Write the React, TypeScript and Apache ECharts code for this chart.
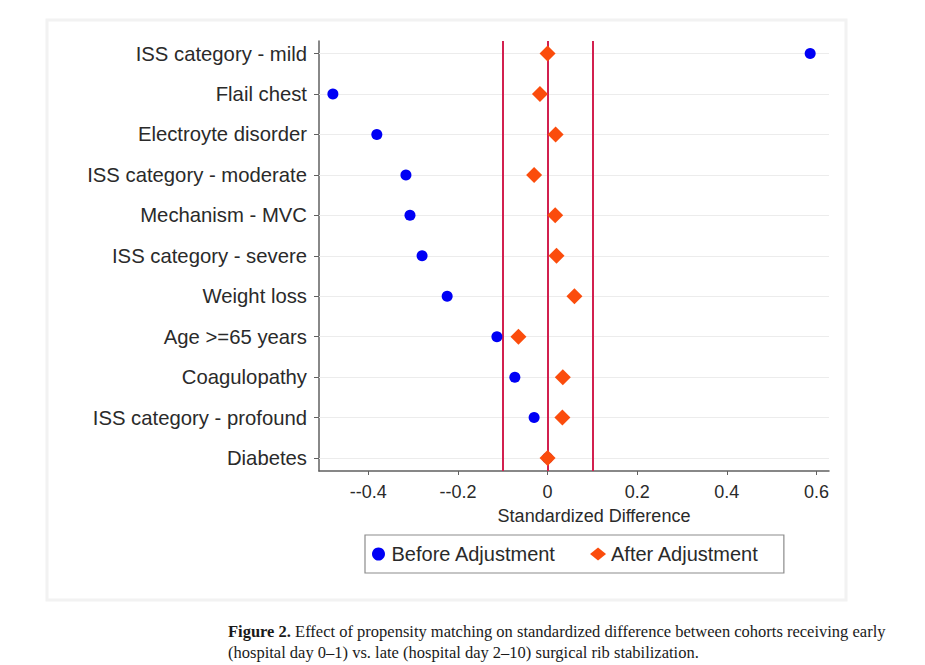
import React, { useEffect, useRef } from "react";
import * as echarts from "echarts";

const categories = [
  "ISS category - mild",
  "Flail chest",
  "Electroyte disorder",
  "ISS category - moderate",
  "Mechanism - MVC",
  "ISS category - severe",
  "Weight loss",
  "Age >=65 years",
  "Coagulopathy",
  "ISS category - profound",
  "Diabetes",
];
const beforeAdjustment = [0.586, -0.479, -0.381, -0.316, -0.307, -0.28, -0.224, -0.113, -0.073, -0.03, 0.0];
const afterAdjustment = [0.0, -0.017, 0.018, -0.03, 0.017, 0.02, 0.06, -0.065, 0.034, 0.033, 0.0];
const thresholds = [-0.1, 0, 0.1];
const xTicks = [-0.4, -0.2, 0, 0.2, 0.4, 0.6];
const xTickLabels = ["--0.4", "--0.2", "0", "0.2", "0.4", "0.6"];
const seriesNames = ["Before Adjustment", "After Adjustment"];
const captionBold = "Figure 2.";
const captionLine1 = " Effect of propensity matching on standardized difference between cohorts receiving early";
const captionLine2 = "(hospital day 0\u20131) vs. late (hospital day 2\u201310) surgical rib stabilization.";

const FONT = "'Liberation Sans', Arial, sans-serif";
const SERIF = "'Liberation Serif', 'DejaVu Serif', serif";

export default function App() {
  const ref = useRef<HTMLDivElement>(null);
  useEffect(() => {
    if (!ref.current) return;
    const chart = echarts.init(ref.current, null, { renderer: "svg" });
    const idx = categories.map((_, i) => i);
    chart.setOption({
      animation: false,
      backgroundColor: "#ffffff",
      textStyle: { fontFamily: FONT },
      grid: { left: 319, right: 96, top: 41, bottom: 194, containLabel: false },
      xAxis: {
        type: "value",
        min: -0.51,
        max: 0.628,
        name: "Standardized Difference",
        nameLocation: "middle",
        nameGap: 36,
        nameTextStyle: { fontSize: 18, color: "#2a2a2a", fontFamily: FONT, padding: [0, 0, 0, 40] },
        axisLine: { show: true, onZero: false, lineStyle: { color: "#606060", width: 1.5 } },
        axisTick: { show: true, inside: false, length: 4, customValues: xTicks, lineStyle: { color: "#606060" } },
        axisLabel: {
          customValues: xTicks,
          margin: 12,
          fontSize: 18,
          color: "#2a2a2a",
          fontFamily: FONT,
          formatter: (v: number) => {
            const i = xTicks.findIndex((t) => Math.abs(t - v) < 1e-9);
            return i >= 0 ? xTickLabels[i] : "";
          },
        },
        splitLine: { show: false },
      },
      yAxis: {
        type: "value",
        inverse: true,
        min: -0.31,
        max: 10.32,
        axisLine: { show: true, onZero: false, lineStyle: { color: "#606060", width: 1.5 } },
        axisTick: { show: true, inside: false, length: 5, customValues: idx, lineStyle: { color: "#606060" } },
        axisLabel: {
          customValues: idx,
          margin: 12,
          fontSize: 20.3,
          color: "#2a2a2a",
          fontFamily: FONT,
          formatter: (v: number) => categories[Math.round(v)] ?? "",
        },
        splitLine: { show: false },
      },
      legend: {
        data: seriesNames.map((n, i) => ({ name: n, icon: i === 0 ? "circle" : "diamond" })),
        left: 365,
        top: 535,
        orient: "horizontal",
        itemWidth: 16,
        itemHeight: 13,
        itemGap: 34,
        padding: [9, 25, 9, 7],
        borderColor: "#8c8c8c",
        borderWidth: 1.2,
        textStyle: { fontSize: 20, color: "#2a2a2a", fontFamily: FONT },
      },
      series: [
        {
          name: "grid",
          type: "scatter",
          data: [],
          z: 1,
          silent: true,
          markLine: {
            silent: true,
            z: 1,
            symbol: ["none", "none"],
            label: { show: false },
            lineStyle: { color: "#ececec", width: 1, type: "solid" },
            data: idx.map((i) => ({ yAxis: i })),
          },
        },
        {
          name: "thresholds",
          type: "scatter",
          data: [],
          z: 2,
          silent: true,
          markLine: {
            silent: true,
            z: 2,
            symbol: ["none", "none"],
            label: { show: false },
            lineStyle: { color: "#d2204f", width: 2, type: "solid" },
            data: thresholds.map((t) => ({ xAxis: t })),
          },
        },
        {
          name: seriesNames[0],
          type: "scatter",
          symbol: "circle",
          symbolSize: 11,
          z: 3,
          itemStyle: { color: "#0000f5", opacity: 1 },
          data: beforeAdjustment.map((v, i) => [v, i]),
        },
        {
          name: seriesNames[1],
          type: "scatter",
          symbol: "diamond",
          symbolSize: 16,
          z: 4,
          itemStyle: { color: "#fb4c0c", opacity: 1 },
          data: afterAdjustment.map((v, i) => [v, i]),
        },
      ],
      graphic: [
        {
          type: "rect",
          shape: { x: 47, y: 20, width: 799, height: 580 },
          style: { fill: "none", stroke: "#f2f2f2", lineWidth: 3 },
          silent: true,
          z: -1,
        },
        {
          type: "text",
          left: 228,
          top: 621,
          style: {
            text: `{b|${captionBold}}${captionLine1}\n${captionLine2}`,
            fontFamily: SERIF,
            fontSize: 16.5,
            lineHeight: 21,
            fill: "#1a1a1a",
            rich: {
              b: { fontWeight: "bold", fontFamily: SERIF, fontSize: 16.5, lineHeight: 21, fill: "#1a1a1a" },
            },
          },
        },
      ],
    });
    return () => chart.dispose();
  }, []);
  return (
    <div
      ref={ref}
      style={{ position: "fixed", left: 0, top: 0, width: 925, height: 665 }}
    />
  );
}
